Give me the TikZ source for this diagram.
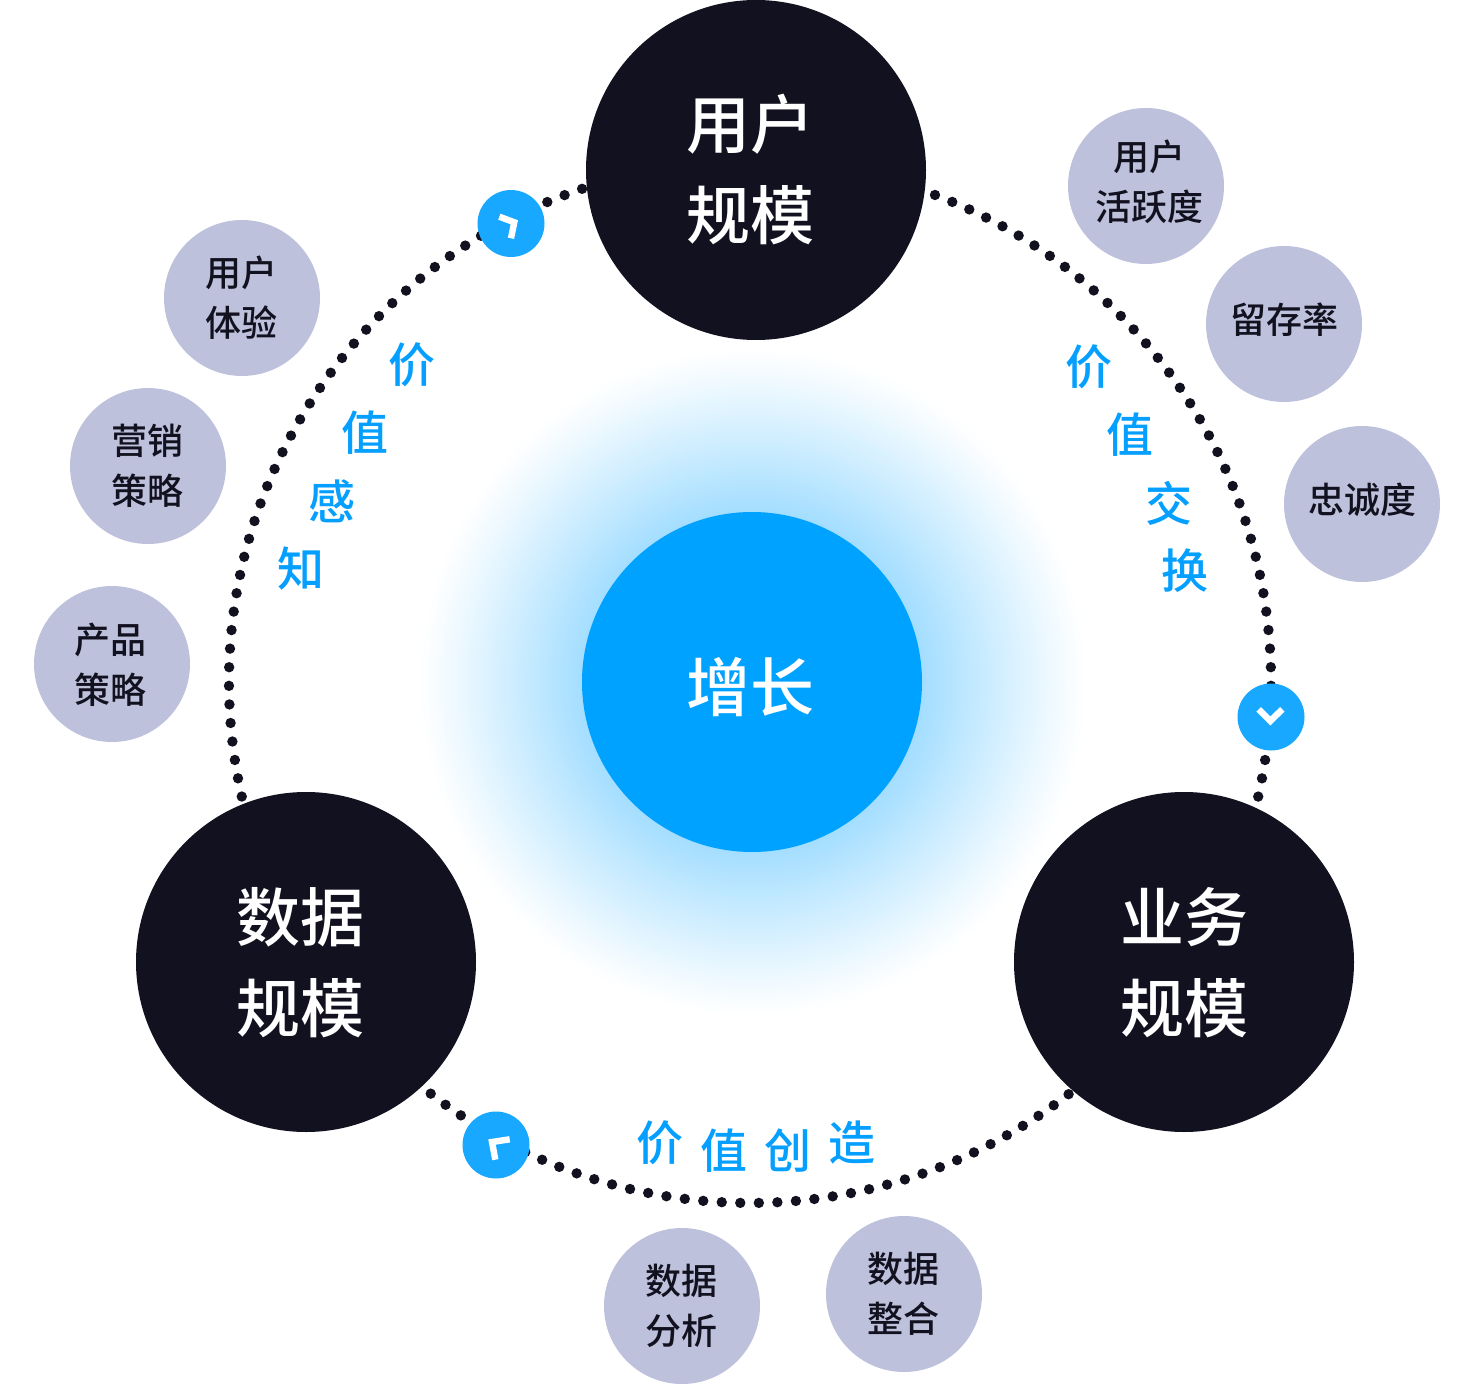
\documentclass[tikz,border=0pt]{standalone}
\usepackage{fontspec}
\newfontfamily\cjk{Noto Sans CJK SC Medium}
\definecolor{bigdark}{HTML}{12111F}
\definecolor{textdark}{HTML}{12111F}
\definecolor{smallgrey}{HTML}{BEC1DB}
\definecolor{labelblue}{HTML}{059FFF}
\definecolor{badgeblue}{HTML}{18A8FF}
\definecolor{coreblue}{HTML}{00A2FF}
\begin{document}
\begin{tikzpicture}[x=0.5pt,y=-0.5pt,
  bignode/.style={circle,fill=bigdark,minimum size=170pt,inner sep=0pt},
  corenode/.style={circle,fill=coreblue,minimum size=170pt,inner sep=0pt},
  bigtext/.style={text=white,font=\cjk\fontsize{32}{45.5}\selectfont,align=center,inner sep=0pt},
  smallnode/.style={circle,fill=smallgrey,minimum size=78pt,inner sep=0pt},
  smalltext/.style={text=textdark,font=\cjk\fontsize{18}{25}\selectfont,align=center,inner sep=0pt},
  lbl/.style={text=labelblue,font=\cjk\fontsize{23.5}{23.5}\selectfont,inner sep=0pt},
  badge/.style={circle,fill=badgeblue,minimum size=33.5pt,inner sep=0pt},
  dotline/.style={draw=bigdark,line width=5.2pt,line cap=round},
  chev/.style={draw=white,line width=3.2pt}]
\useasboundingbox (0,0) rectangle (1484,1396);
\foreach \r in {333,331,...,169}{
  \pgfmathsetmacro{\p}{36*pow(max(1-(\r-170)/165,0.001),1.1)}
  \fill[coreblue!\p!white] (753,682) circle[radius=\r];
}
\node[corenode] (core) at (752,682) {};
\node[bigtext] (coret) at (750,687) {增长};
\node[bignode] (user) at (756,170) {};
\node[bigtext] (usert) at (750.5,169.5) {用户\\规模};
\node[bignode] (biz) at (1184,962) {};
\node[bigtext] (bizt) at (1184,962.5) {业务\\规模};
\node[bignode] (data) at (306,962) {};
\node[bigtext] (datat) at (300,962.5) {数据\\规模};
\coordinate (ring) at (750,682);
\draw[dotline,dash pattern=on 0pt off 9.31pt] (ring) ++(-69.2:521) arc[start angle=-69.2,end angle=12.75,radius=521];
\draw[dotline,dash pattern=on 0pt off 9.277pt] (ring) ++(52.3:521) arc[start angle=52.3,end angle=127.85,radius=521];
\draw[dotline,dash pattern=on 0pt off 9.304pt] (ring) ++(167.3:521) arc[start angle=167.3,end angle=251.25,radius=521];
\node[badge] (b1) at (511,223.5) {};
\node[badge] (b2) at (1271,717) {};
\node[badge] (b3) at (496,1145) {};
\draw[chev] (499.3,216.7) -- (514.3,222.3) -- (511,238.3);
\draw[chev] (1258.7,709.3) -- (1270.3,721) -- (1282.3,709.3);
\draw[chev] (509.7,1139.3) -- (492,1142) -- (495.3,1159.7);
\node[smallnode] (s1) at (1146,186) {};
\node[smalltext] (s1t) at (1149,182) {用户\\活跃度};
\node[smallnode] (s2) at (1284,324) {};
\node[smalltext] (s2t) at (1284,320) {留存率};
\node[smallnode] (s3) at (1362,504) {};
\node[smalltext] (s3t) at (1362,499.5) {忠诚度};
\node[smallnode] (s4) at (242,298) {};
\node[smalltext] (s4t) at (241,298) {用户\\体验};
\node[smallnode] (s5) at (148,466) {};
\node[smalltext] (s5t) at (147,466) {营销\\策略};
\node[smallnode] (s6) at (112,664) {};
\node[smalltext] (s6t) at (111,665) {产品\\策略};
\node[smallnode] (s7) at (682,1306) {};
\node[smalltext] (s7t) at (681,1306) {数据\\分析};
\node[smallnode] (s8) at (904,1294) {};
\node[smalltext] (s8t) at (903,1294) {数据\\整合};
\node[lbl] (l1) at (412,365) {价};
\node[lbl] (l2) at (364.5,433) {值};
\node[lbl] (l3) at (332,501) {感};
\node[lbl] (l4) at (300.5,569) {知};
\node[lbl] (l5) at (1089,367) {价};
\node[lbl] (l6) at (1129.5,435) {值};
\node[lbl] (l7) at (1169,503) {交};
\node[lbl] (l8) at (1185,571) {换};
\node[lbl] (l9) at (660,1143) {价};
\node[lbl] (l10) at (724,1151) {值};
\node[lbl] (l11) at (788,1151) {创};
\node[lbl] (l12) at (852,1143) {造};
\end{tikzpicture}
\end{document}
